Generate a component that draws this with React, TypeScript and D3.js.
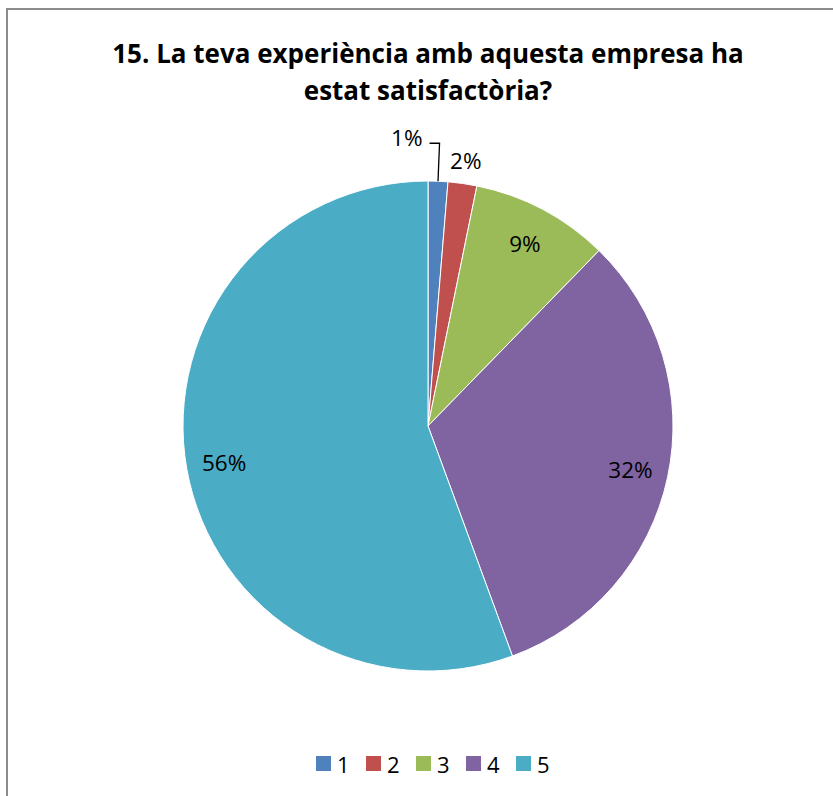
import React, { useEffect, useRef } from 'react';
import * as d3 from 'd3';

const categories = ['1', '2', '3', '4', '5'];
const values = [1.3, 1.9, 9.1, 32.1, 55.6];
const labels = ['1%', '2%', '9%', '32%', '56%'];
const colors = ['#4F81BD', '#C0504D', '#9BBB59', '#8064A2', '#4BACC6'];
const titleLines = ['15. La teva experiència amb aquesta empresa ha', 'estat satisfactòria?'];

const W = 833;
const H = 796;
const FONT = '"Open Sans", "DejaVu Sans", sans-serif';

export default function App() {
  const svgRef = useRef<SVGSVGElement>(null);

  useEffect(() => {
    if (!svgRef.current) return;
    const root = d3.select(svgRef.current);
    root.selectAll('*').remove();

    // chart frame
    root.append('rect')
      .attr('x', 7).attr('y', 9)
      .attr('width', W + 20).attr('height', H + 20)
      .attr('fill', 'white')
      .attr('stroke', '#8c8c8c')
      .attr('stroke-width', 2);

    // title
    root.append('text')
      .attr('x', 428).attr('y', 63)
      .attr('text-anchor', 'middle')
      .style('font-family', FONT)
      .style('font-weight', 'bold')
      .style('font-size', '26px')
      .attr('fill', '#000')
      .selectAll('tspan')
      .data(titleLines)
      .enter()
      .append('tspan')
      .attr('x', 428)
      .attr('dy', (_d, i) => (i === 0 ? 0 : 37))
      .text(d => d);

    const cx = 428;
    const cy = 426;
    const radius = 245;

    const data = categories.map((c, i) => ({ c, v: values[i], label: labels[i], color: colors[i] }));
    type D = typeof data[number];

    const pie = d3.pie<D>().value(d => d.v).sort(null);
    const arcs = pie(data);
    const arc = d3.arc<d3.PieArcDatum<D>>().innerRadius(0).outerRadius(radius);

    const g = root.append('g').attr('transform', `translate(${cx},${cy})`);

    g.selectAll('path')
      .data(arcs)
      .enter()
      .append('path')
      .attr('d', arc)
      .attr('fill', d => d.data.color)
      .attr('stroke', 'white')
      .attr('stroke-width', 1);

    const polar = (a: number, r: number) => [Math.sin(a) * r, -Math.cos(a) * r];

    arcs.forEach((d, i) => {
      const mid = (d.startAngle + d.endAngle) / 2;
      const t = g.append('text')
        .style('font-family', FONT)
        .style('font-size', '22.5px')
        .attr('fill', '#000')
        .attr('dominant-baseline', 'central')
        .text(d.data.label);
      if (i === 0) {
        // leader line label
        const [x0, y0] = polar(mid, radius);
        const [x1, y1] = polar(mid, radius + 38);
        const x2 = x1 - 10;
        g.append('path')
          .attr('d', `M${x0},${y0}L${x1},${y1}L${x2},${y1}`)
          .attr('fill', 'none')
          .attr('stroke', '#000')
          .attr('stroke-width', 1.3);
        t.attr('x', x2 - 7).attr('y', y1 - 6).attr('text-anchor', 'end');
      } else if (i === 1) {
        const [x, y] = polar(mid, radius + 23);
        t.attr('x', x).attr('y', y).attr('text-anchor', 'middle');
      } else {
        const [x, y] = polar(mid, radius * 0.845);
        t.attr('x', x).attr('y', y).attr('text-anchor', 'middle');
      }
    });

    // legend
    const legend = root.append('g').attr('transform', 'translate(316,756)');
    const item = legend.selectAll('g')
      .data(data)
      .enter()
      .append('g')
      .attr('transform', (_d, i) => `translate(${i * 50},0)`);
    item.append('rect')
      .attr('width', 15).attr('height', 15)
      .attr('fill', d => d.color);
    item.append('text')
      .attr('x', 21).attr('y', 8)
      .attr('dominant-baseline', 'central')
      .style('font-family', FONT)
      .style('font-size', '22px')
      .text(d => d.c);
  }, []);

  return (
    <svg ref={svgRef} width={W} height={H} style={{ position: 'absolute', left: 0, top: 0 }} />
  );
}
